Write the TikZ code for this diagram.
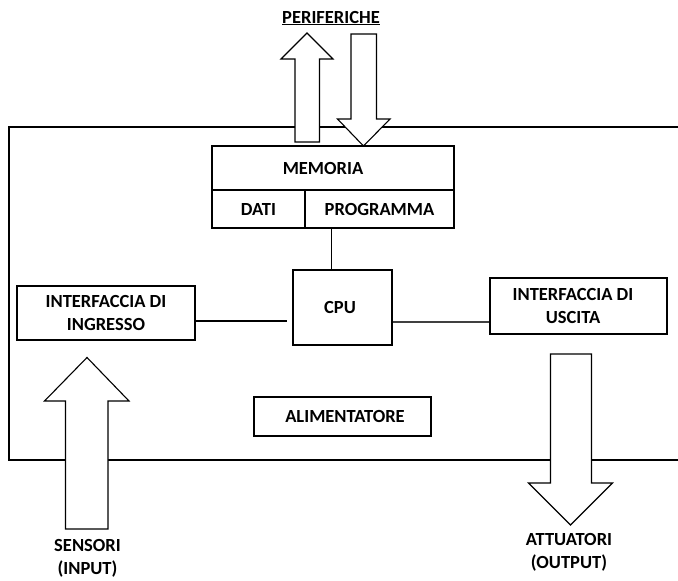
\documentclass[tikz,border=0pt]{standalone}
\usepackage{fontspec}
\setmainfont{Carlito}
\begin{document}
\begin{tikzpicture}[x=1pt,y=-1pt,
  every node/.style={font=\bfseries\fontsize{18.5}{23}\selectfont, inner sep=0pt, align=center},
  box/.style={draw, line width=1.2pt, rectangle},
  frame/.style={line width=1.2pt},
  wire/.style={line width=1.2pt},
  blockarrow/.style={draw, line width=1.1pt, fill=white, line join=miter},
  label/.style={}]
\useasboundingbox (0,0) rectangle (678,581);

% enclosure of the controller
\draw[frame] (678,127) -- (9,127) -- (9,460) -- (678,460);

% memory block with its two sections
\node[box, minimum width=242, minimum height=44] (mem) at (333,168) {\hspace*{-20pt}MEMORIA};
\node[box, minimum width=93, minimum height=38] (dati) at (258.5,209) {DATI};
\node[box, minimum width=149, minimum height=38] (prog) at (379.5,209) {PROGRAMMA};

% processor, interfaces and power supply
\node[box, minimum width=99, minimum height=75] (cpu) at (342.5,307.5) {\hspace*{-5pt}CPU};
\node[box, minimum width=178, minimum height=54] (ingr) at (106,313) {INTERFACCIA DI\\INGRESSO};
\node[box, minimum width=177, minimum height=56] (usc) at (578.5,306) {\hspace*{-11pt}INTERFACCIA DI\\\hspace*{-11pt}USCITA};
\node[box, minimum width=177, minimum height=39] (alim) at (342.5,416.5) {\hspace*{5pt}ALIMENTATORE};

% buses
\draw[wire] ([xshift=27pt]prog.south west) -- ([xshift=27pt]prog.south west |- cpu.north);
\draw[wire] ([yshift=-8pt]ingr.east) -- ([xshift=-5pt,yshift=-8pt]ingr.east -| cpu.west);
\draw[wire, line width=1.6pt, black!75] ([yshift=-14.5pt]cpu.east) -- ([yshift=-14.5pt]cpu.east -| usc.west);

% peripherals: outgoing and incoming block arrows
\node[label] (perif) at (331,18) {\underline{PERIFERICHE}};
\coordinate (outtip) at (307,33);
\draw[blockarrow] (outtip) -- (333,59) -- (319.5,59) -- (319.5,142) -- (295,142) -- (295,59) -- (281,59) -- cycle;
\coordinate (intip) at (363.5,146);
\draw[blockarrow] (intip) -- (390,119) -- (376.5,119) -- (376.5,34) -- (351,34) -- (351,119) -- (337.5,119) -- cycle;

% sensors feeding the input interface
\coordinate (sentip) at (87,357.5);
\draw[blockarrow] (sentip) -- (129,401) -- (108,401) -- (108,529) -- (65.5,529) -- (65.5,401) -- (44.5,401) -- cycle;
\node[label] (sens) at (87.5,558) {SENSORI\\(INPUT)};

% actuators driven by the output interface
\coordinate (atttip) at (570.5,525);
\draw[blockarrow] (atttip) -- (612.5,483) -- (591.5,483) -- (591.5,354) -- (550.5,354) -- (550.5,483) -- (528.5,483) -- cycle;
\node[label] (att) at (569,552) {ATTUATORI\\(OUTPUT)};
\end{tikzpicture}
\end{document}
